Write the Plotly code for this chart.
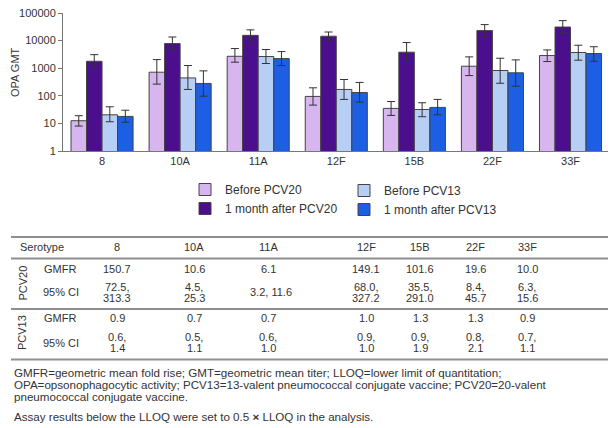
import plotly.graph_objects as go

# ---------------------------------------------------------------- data
serotypes = ["8", "10A", "11A", "12F", "15B", "22F", "33F"]

# OPA GMTs (and 95% CI bounds) per vaccine group
before_pcv20 = [12.5, 716, 2700, 95, 35, 1180, 2870]
before_pcv20_lo = [8, 265, 1650, 46, 19.5, 540, 1740]
before_pcv20_hi = [19, 2050, 5150, 195, 62, 2570, 4600]

after_pcv20 = [1780, 7800, 15500, 14400, 3800, 23000, 31000]
after_pcv20_lo = [1120, 4700, 9200, 10300, 1740, 14400, 19400]
after_pcv20_hi = [3100, 13500, 24500, 20500, 8500, 38000, 53000]

before_pcv13 = [20.5, 445, 2650, 170, 32, 825, 3700]
before_pcv13_lo = [11.5, 170, 1480, 74, 17.5, 285, 1950]
before_pcv13_hi = [40, 1250, 4750, 390, 56, 2300, 6800]

after_pcv13 = [17.9, 280, 2230, 132, 38, 680, 3400]
after_pcv13_lo = [11, 97, 1250, 59, 20.5, 224, 1780]
after_pcv13_hi = [30, 800, 4000, 305, 74, 2000, 6000]

y_tick_vals = [1, 10, 100, 1000, 10000, 100000]
y_tick_text = ["1", "10", "100", "1000", "10000", "100000"]

# GMFR table
pcv20_gmfr = [150.7, 10.6, 6.1, 149.1, 101.6, 19.6, 10.0]
pcv20_ci_lo = [72.5, 4.5, 3.2, 68.0, 35.5, 8.4, 6.3]
pcv20_ci_hi = [313.3, 25.3, 11.6, 327.2, 291.0, 45.7, 15.6]
pcv13_gmfr = [0.9, 0.7, 0.7, 1.0, 1.3, 1.3, 0.9]
pcv13_ci_lo = [0.6, 0.5, 0.6, 0.9, 0.9, 0.8, 0.7]
pcv13_ci_hi = [1.4, 1.1, 1.0, 1.0, 1.9, 2.1, 1.1]
single_line_ci = {"11A"}

footnotes = [
    "GMFR=geometric mean fold rise; GMT=geometric mean titer; LLOQ=lower limit of quantitation;",
    "OPA=opsonophagocytic activity; PCV13=13-valent pneumococcal conjugate vaccine; PCV20=20-valent",
    "pneumococcal conjugate vaccine.",
]
assay_note = "Assay results below the LLOQ were set to 0.5 <b>\u00d7</b> LLOQ in the analysis."

# ---------------------------------------------------------------- geometry
W, H = 611, 428
L, R, T, B = 63, 608, 13, 151
FONT = "Liberation Sans, Arial, sans-serif"
TXT = "#333333"


def px_x(x):
    return (x - L) / (R - L)


def px_y(y):
    return (B - y) / (B - T)


groups = [
    ("Before PCV20", before_pcv20, before_pcv20_lo, before_pcv20_hi, "#d7b5ee", "legend"),
    ("1 month after PCV20", after_pcv20, after_pcv20_lo, after_pcv20_hi, "#4b0e8c", "legend"),
    ("Before PCV13", before_pcv13, before_pcv13_lo, before_pcv13_hi, "#b7cef5", "legend2"),
    ("1 month after PCV13", after_pcv13, after_pcv13_lo, after_pcv13_hi, "#1c5fe4", "legend2"),
]

fig = go.Figure()
for name, vals, lo, hi, color, leg in groups:
    fig.add_trace(go.Bar(
        name=name,
        x=serotypes,
        y=vals,
        marker=dict(color=color, line=dict(color="#444444", width=1)),
        error_y=dict(
            type="data",
            symmetric=False,
            array=[h - v for v, h in zip(vals, hi)],
            arrayminus=[v - l for v, l in zip(vals, lo)],
            color="#333333",
            thickness=1,
            width=4,
        ),
        legend=leg,
    ))

# ---------------------------------------------------------------- text
col_x = [117, 194, 268, 366, 420, 475, 527]
annotations = []


def text(x, y, s, size=11, anchor="center", angle=0):
    annotations.append(dict(
        x=px_x(x), y=px_y(y), xref="paper", yref="paper", text=s,
        showarrow=False, xanchor=anchor, yanchor="middle", textangle=angle,
        font=dict(family=FONT, size=size, color=TXT),
    ))


# y-axis title
text(15, 72, "OPA GMT", angle=-90)

text(18, 247, "Serotype", anchor="left")
for cx, s in zip(col_x, serotypes):
    text(cx, 247, s)

# PCV20 block
text(22, 283.5, "PCV20", angle=-90)
text(42, 269, "GMFR", anchor="left")
text(41, 292, "95% CI", anchor="left")
# PCV13 block
text(22, 333, "PCV13", angle=-90)
text(42, 318, "GMFR", anchor="left")
text(41, 343, "95% CI", anchor="left")

for cx, s, g20, l20, h20, g13, l13, h13 in zip(
        col_x, serotypes, pcv20_gmfr, pcv20_ci_lo, pcv20_ci_hi,
        pcv13_gmfr, pcv13_ci_lo, pcv13_ci_hi):
    text(cx, 269, f"{g20:.1f}")
    text(cx, 318, f"{g13:.1f}")
    if s in single_line_ci:
        text(cx + 3, 292, f"{l20:.1f}, {h20:.1f}")
    else:
        text(cx, 287, f"{l20:.1f},")
        text(cx, 298, f"{h20:.1f}")
    text(cx, 337, f"{l13:.1f},")
    text(cx, 348, f"{h13:.1f}")

for i, line in enumerate(footnotes):
    text(12, 372 + 12 * i, line, size=11.6, anchor="left")
text(12, 416, assay_note, size=11.6, anchor="left")

shapes = []
for yy in [237, 258.5, 309, 359.5]:
    shapes.append(dict(
        type="line", xref="paper", yref="paper",
        x0=px_x(11), x1=px_x(608), y0=px_y(yy), y1=px_y(yy),
        line=dict(color="#8f8f8f", width=2),
    ))

# ---------------------------------------------------------------- layout
legend_style = dict(
    xref="container", yref="container", xanchor="left", yanchor="top",
    bgcolor="rgba(0,0,0,0)", font=dict(family=FONT, size=12, color=TXT),
    itemwidth=30, tracegroupgap=0, orientation="v",
)

fig.update_layout(
    width=W, height=H, autosize=False,
    margin=dict(l=L, r=W - R, t=T, b=H - B, pad=0, autoexpand=False),
    paper_bgcolor="white", plot_bgcolor="white",
    barmode="group", bargap=0.205, bargroupgap=0,
    font=dict(family=FONT, size=11, color=TXT),
    showlegend=True,
    legend=dict(x=185 / W, y=1 - 175 / H, **legend_style),
    legend2=dict(x=344 / W, y=1 - 176 / H, **legend_style),
    xaxis=dict(
        range=[-0.5, 6.48], showline=True, linecolor="#777777", linewidth=1,
        ticks="", showgrid=False, zeroline=False, automargin=False,
        tickfont=dict(family=FONT, size=11, color=TXT),
    ),
    yaxis=dict(
        type="log", range=[0, 5], tickvals=y_tick_vals, ticktext=y_tick_text,
        showline=True, linecolor="#777777", linewidth=1,
        ticks="outside", ticklen=4, tickcolor="#777777",
        showgrid=False, zeroline=False, automargin=False,
        tickfont=dict(family=FONT, size=11, color=TXT),
    ),
    annotations=annotations,
    shapes=shapes,
)

fig.write_html("out.html")
